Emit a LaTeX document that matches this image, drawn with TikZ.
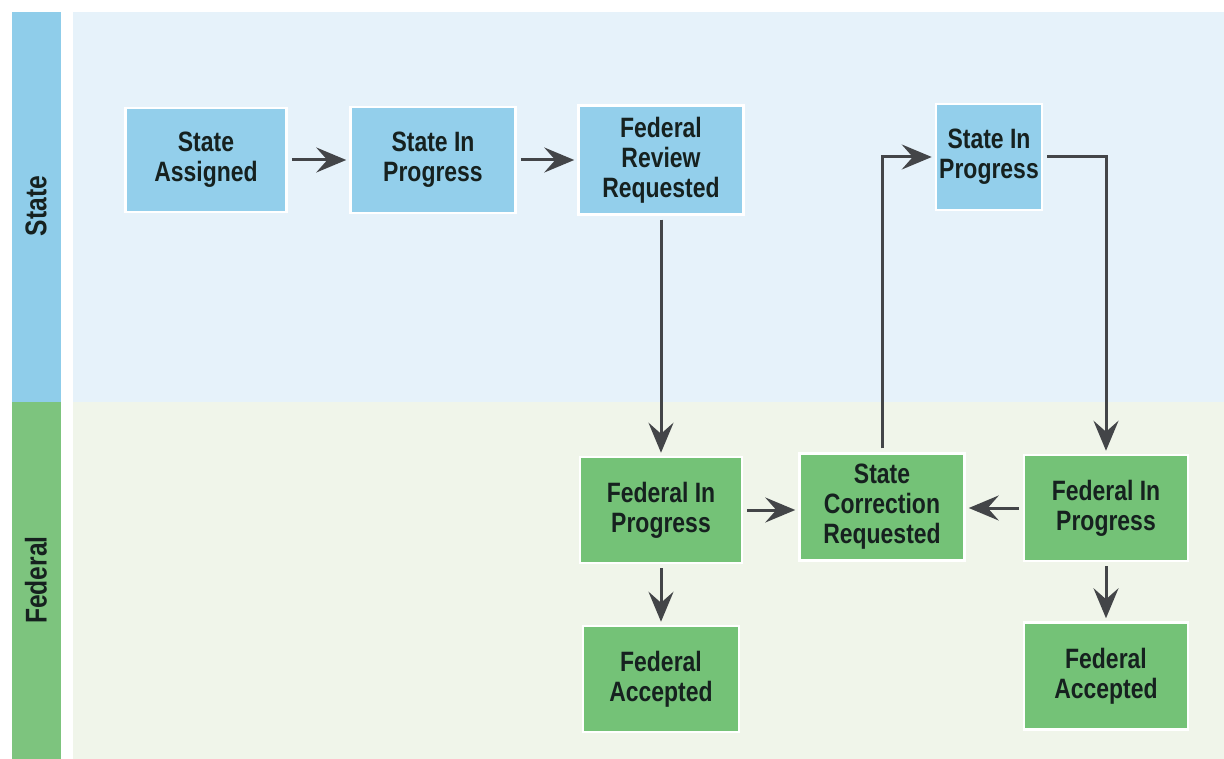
\documentclass[tikz,border=0pt]{standalone}
\usepackage{fontspec}
\setmainfont{Liberation Sans}[FakeStretch=0.82]
\usetikzlibrary{arrows.meta}
\definecolor{barS}{HTML}{8FCDEA}
\definecolor{barF}{HTML}{7DC47E}
\definecolor{bgS}{HTML}{E6F2FA}
\definecolor{bgF}{HTML}{F0F5EA}
\definecolor{boxS}{HTML}{93CFEB}
\definecolor{boxF}{HTML}{74C277}
\definecolor{txt}{HTML}{16211F}
\definecolor{arrc}{HTML}{434548}
\begin{document}
\begin{tikzpicture}[x=1pt,y=-1pt,
  box/.style={draw=white, line width=2.5pt, inner sep=0pt, align=center,
    text=txt, font=\fontsize{28}{30}\selectfont\bfseries},
  sbox/.style={box, fill=boxS},
  fbox/.style={box, fill=boxF},
  lanelbl/.style={rotate=90, text=txt, font=\fontsize{30}{32}\selectfont\bfseries},
  arr/.style={draw=arrc, line width=3pt,
    -{Stealth[length=30pt, width=25pt, inset=11pt]},
    shorten <=4pt, shorten >=3pt}
]
\useasboundingbox (0,0) rectangle (1224,759);
\fill[white] (0,0) rectangle (1224,759);
\fill[bgS] (73,12) rectangle (1224,402);
\fill[bgF] (73,402) rectangle (1224,759);
\fill[barS] (12,12) rectangle (61,402);
\fill[barF] (12,402) rectangle (61,759);
\node[lanelbl] (lS) at (36,206) {State};
\node[lanelbl] (lF) at (36,580) {Federal};

\node[sbox, minimum width=161pt, minimum height=104pt] (sa) at (206,160) {State\\Assigned};
\node[sbox, minimum width=165pt, minimum height=106pt] (sip1) at (433,160) {State In\\Progress};
\node[sbox, minimum width=165pt, minimum height=109pt] (frr) at (661,160) {Federal\\Review\\Requested};
\node[sbox, minimum width=106pt, minimum height=106pt] (sip2) at (989,157) {State In\\Progress};
\node[fbox, minimum width=162pt, minimum height=106pt] (fip1) at (661,510) {Federal In\\Progress};
\node[fbox, minimum width=165pt, minimum height=107pt] (scr) at (882,507) {State\\Correction\\Requested};
\node[fbox, minimum width=164pt, minimum height=106pt] (fip2) at (1106,508) {Federal In\\Progress};
\node[fbox, minimum width=156pt, minimum height=106pt] (fa1) at (661,679) {Federal\\Accepted};
\node[fbox, minimum width=164pt, minimum height=107pt] (fa2) at (1106,676) {Federal\\Accepted};

\draw[arr] (sa) -- (sip1);
\draw[arr] (sip1) -- (frr);
\draw[arr] (frr) -- (fip1);
\draw[arr] (fip1) -- (fip1 -| scr.west);
\draw[arr] (fip2) -- (fip2 -| scr.east);
\draw[arr] (scr.north) |- (sip2.west);
\draw[arr] (sip2.east) -| (fip2.north);
\draw[arr] (fip1) -- (fa1);
\draw[arr] (fip2) -- (fa2);
\end{tikzpicture}
\end{document}
